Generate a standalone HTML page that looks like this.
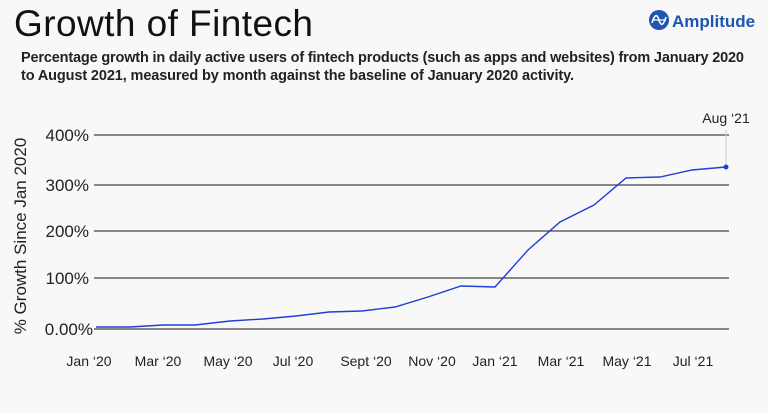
<!DOCTYPE html>
<html><head><style>
body{margin:0;width:768px;height:408px;background:#f8f8f8;font-family:"Liberation Sans",sans-serif;overflow:hidden}
</style></head><body>
<svg width="768" height="408" xmlns="http://www.w3.org/2000/svg" font-family="Liberation Sans, sans-serif">
<text x="14" y="36" font-size="37" fill="#111" textLength="299">Growth of Fintech</text>
<circle cx="659" cy="20" r="10" fill="#1e55b0"/>
<path d="M652 23 Q656 10 659 20 Q662 30 666 17" stroke="#fff" stroke-width="1.6" fill="none"/>
<line x1="652" y1="20" x2="666" y2="20" stroke="#fff" stroke-width="1.2"/>
<text x="672" y="27" font-size="17" font-weight="bold" fill="#1e55b0">Amplitude</text>
<text x="21" y="62" font-size="14.5" font-weight="bold" fill="#222" textLength="723">Percentage growth in daily active users of fintech products (such as apps and websites) from January 2020</text>
<text x="21" y="80" font-size="14.5" font-weight="bold" fill="#222" textLength="553">to August 2021, measured by month against the baseline of January 2020 activity.</text>
<g stroke="#444" stroke-width="1.3">
<line x1="94" y1="135" x2="729" y2="135"/>
<line x1="94" y1="185" x2="729" y2="185"/>
<line x1="94" y1="231" x2="729" y2="231"/>
<line x1="94" y1="278" x2="729" y2="278"/>
<line x1="94" y1="329" x2="729" y2="329"/>
</g>
<line x1="726" y1="130" x2="726" y2="167" stroke="#ccc" stroke-width="1"/>
<g font-size="17" fill="#222" text-anchor="end">
<text x="89" y="141">400%</text>
<text x="89" y="191">300%</text>
<text x="89" y="237">200%</text>
<text x="89" y="284">100%</text>
<text x="93" y="335">0.00%</text>
</g>
<text transform="translate(26,236) rotate(-90)" font-size="17" fill="#222" text-anchor="middle">% Growth Since Jan 2020</text>
<g font-size="14" fill="#222" text-anchor="middle">
<text x="89" y="366">Jan ‘20</text>
<text x="158" y="366">Mar ‘20</text>
<text x="228" y="366">May ‘20</text>
<text x="293" y="366">Jul ‘20</text>
<text x="366" y="366">Sept ‘20</text>
<text x="432" y="366">Nov ‘20</text>
<text x="495" y="366">Jan ‘21</text>
<text x="561" y="366">Mar ‘21</text>
<text x="627" y="366">May ‘21</text>
<text x="693" y="366">Jul ‘21</text>
</g>
<text x="726" y="123" font-size="14" fill="#222" text-anchor="middle">Aug ‘21</text>
<polyline fill="none" stroke="#1f3fd6" stroke-width="1.4" points="96,327 130,327 163,325 195,325 230,321 263,319 296,316 329,312 362,311 395,307 428,297 461,286 495,287 528,250 560,222 594,205 626,178 660,177 692,170 726,167"/>
<circle cx="726" cy="167" r="2.5" fill="#1f3fd6"/>
</svg>
</body></html>
